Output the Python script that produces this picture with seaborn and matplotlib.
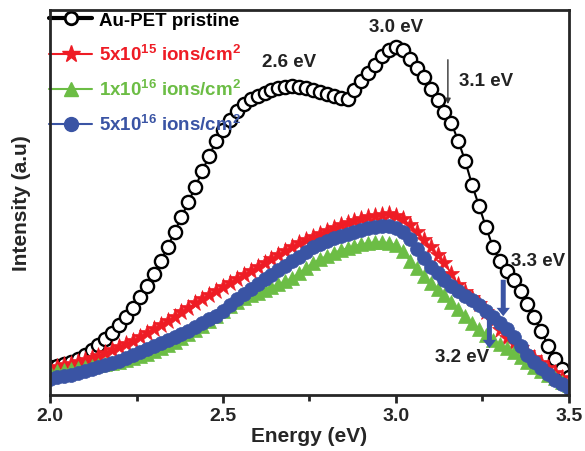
import numpy as np
import pandas as pd
import seaborn as sns
import matplotlib.pyplot as plt
from matplotlib.lines import Line2D
from matplotlib.ticker import MultipleLocator, NullLocator

# photon energy grid (eV), one reading every 0.02 eV
energy = np.round(np.arange(2.0, 3.5001, 0.02), 2)

# PL intensity (a.u.)
pristine = [32, 33, 35, 37, 40, 44, 49, 54, 60, 66,
            74, 82, 91, 102, 113, 125, 138, 152, 167, 182,
            197, 212, 228, 243, 258, 269, 279, 288, 295, 300,
            303, 306, 309, 311, 312, 313, 312, 311, 309, 307,
            305, 303, 301, 300, 309, 318, 326, 334, 343, 349,
            352, 349, 340, 331, 322, 310, 299, 287, 276, 258,
            238, 214, 193, 172, 152, 138, 128, 119, 108, 95,
            82, 68, 53, 40, 30, 22]
dose_5e15 = [31, 32, 34, 35, 37, 39, 41, 43, 46, 49,
             52, 55, 58, 62, 66, 70, 74, 78, 82, 87,
             91, 96, 100, 104, 108, 112, 116, 120, 124, 128,
             132, 136, 140, 144, 148, 152, 156, 159, 162, 165,
             168, 171, 174, 176, 178, 180, 182, 183, 184, 185,
             183, 180, 174, 167, 159, 152, 144, 136, 125, 114,
             107, 101, 95, 87, 78, 69, 61, 56, 51, 46,
             41, 36, 31, 26, 21, 17]
dose_1e16 = [27, 28, 29, 30, 31, 32, 33, 34, 35, 36,
             37, 39, 41, 43, 45, 48, 51, 54, 57, 61,
             65, 69, 73, 78, 83, 88, 93, 97, 101, 104,
             106, 109, 112, 115, 118, 121, 126, 131, 136, 140,
             143, 146, 149, 151, 153, 155, 156, 157, 157, 156,
             154, 148, 138, 131, 123, 116, 110, 104, 97, 90,
             83, 76, 70, 64, 59, 55, 51, 47, 42, 37,
             32, 28, 24, 21, 17, 14]
dose_5e16 = [20, 22, 23, 24, 26, 28, 30, 32, 34, 36,
             38, 41, 44, 47, 50, 53, 56, 59, 62, 65,
             68, 72, 76, 80, 83, 88, 94, 100, 105, 110,
             115, 120, 124, 129, 133, 138, 142, 147, 152, 155,
             158, 161, 163, 165, 167, 169, 171, 172, 173, 173,
             171, 167, 160, 150, 141, 132, 126, 119, 113, 108,
             103, 99, 94, 88, 82, 76, 70, 62, 53, 44,
             37, 31, 25, 19, 15, 11]

labels = ["Au-PET pristine",
          "5x10$^{15}$ ions/cm$^{2}$",
          "1x10$^{16}$ ions/cm$^{2}$",
          "5x10$^{16}$ ions/cm$^{2}$"]
colors = ["black", "#ee1c25", "#6cbd45", "#3a54a4"]
markers = ["o", "*", "^", "o"]

# peak labels: text, x, y
peaks = [("2.6 eV", 2.69, 337), ("3.0 eV", 3.0, 372), ("3.1 eV", 3.26, 318),
         ("3.3 eV", 3.41, 138), ("3.2 eV", 3.19, 42)]

sns.set_style("ticks")
plt.rcParams["font.family"] = ["Liberation Sans", "DejaVu Sans"]
plt.rcParams["font.weight"] = "bold"
plt.rcParams["mathtext.fontset"] = "custom"
plt.rcParams["mathtext.rm"] = "Liberation Sans:bold"
plt.rcParams["mathtext.bf"] = "Liberation Sans:bold"
plt.rcParams["mathtext.default"] = "bf"

df = pd.DataFrame({"energy": energy, "p": pristine, "a": dose_5e15,
                   "b": dose_1e16, "c": dose_5e16})

fig, ax = plt.subplots(figsize=(5.85, 4.52), dpi=100)
fig.subplots_adjust(left=0.0855, right=0.9726, bottom=0.124, top=0.9757)

sns.lineplot(data=df, x="energy", y="p", ax=ax, color="black", lw=1.5,
             marker="o", markersize=9.5, mfc="white", mec="black", mew=1.7)
sns.lineplot(data=df, x="energy", y="a", ax=ax, color=colors[1], lw=1.2,
             marker="*", markersize=12.5, mec=colors[1], mew=0.5)
sns.lineplot(data=df, x="energy", y="b", ax=ax, color=colors[2], lw=1.2,
             marker="^", markersize=10, mec=colors[2], mew=0.5)
sns.lineplot(data=df, x="energy", y="c", ax=ax, color=colors[3], lw=1.2,
             marker="o", markersize=10, mec=colors[3], mew=0.5)

ax.set_xlim(2.0, 3.5)
ax.set_ylim(4, 389)
ax.xaxis.set_major_locator(MultipleLocator(0.5))
ax.xaxis.set_minor_locator(MultipleLocator(0.25))
ax.yaxis.set_major_locator(NullLocator())
ax.tick_params(axis="x", which="major", direction="out", length=6, width=2,
               labelsize=14, pad=3)
ax.tick_params(axis="x", which="minor", direction="out", length=4, width=2)
for lab in ax.get_xticklabels():
    lab.set_fontweight("bold")
for sp in ax.spines.values():
    sp.set_linewidth(2)
    sp.set_visible(True)
    sp.set_zorder(10)

ax.set_xlabel("Energy (eV)", fontsize=15, fontweight="bold", labelpad=1)
ax.set_ylabel("Intensity (a.u)", fontsize=15, fontweight="bold", labelpad=14)

for txt, x, y in peaks:
    ax.text(x, y, txt, fontsize=13.5, fontweight="bold", color="#222222",
            ha="center", va="center", zorder=12)

ax.annotate("", xy=(3.15, 292), xytext=(3.15, 342),
            arrowprops=dict(arrowstyle="-|>", color="#333333", lw=1,
                            mutation_scale=8), zorder=12)
for xa, y0, y1 in [(3.31, 122, 80), (3.27, 84, 48)]:
    ax.annotate("", xy=(xa, y1), xytext=(xa, y0), zorder=12,
                arrowprops=dict(arrowstyle="simple,head_width=0.8,tail_width=0.3",
                                color=colors[3], lw=0, mutation_scale=12))

handles = []
for c, m, l in zip(colors, markers, labels):
    if l.startswith("Au"):
        h = Line2D([], [], color=c, lw=3, marker=m, markersize=9, mfc="white",
                   mec=c, mew=2)
    else:
        h = Line2D([], [], color=c, lw=1.5, marker=m,
                   markersize=13 if m == "*" else 10, mfc=c, mec=c)
    handles.append(h)
leg = ax.legend(handles, labels, loc="upper left", frameon=False, fontsize=13.5,
                handlelength=2.3, handletextpad=0.35, labelspacing=0.8,
                borderaxespad=0.0, borderpad=0.1,
                bbox_to_anchor=(-0.005, 1.0))
for t, c in zip(leg.get_texts(), colors):
    t.set_color(c)
    t.set_fontweight("bold")

fig.savefig("out.png", dpi=100)
